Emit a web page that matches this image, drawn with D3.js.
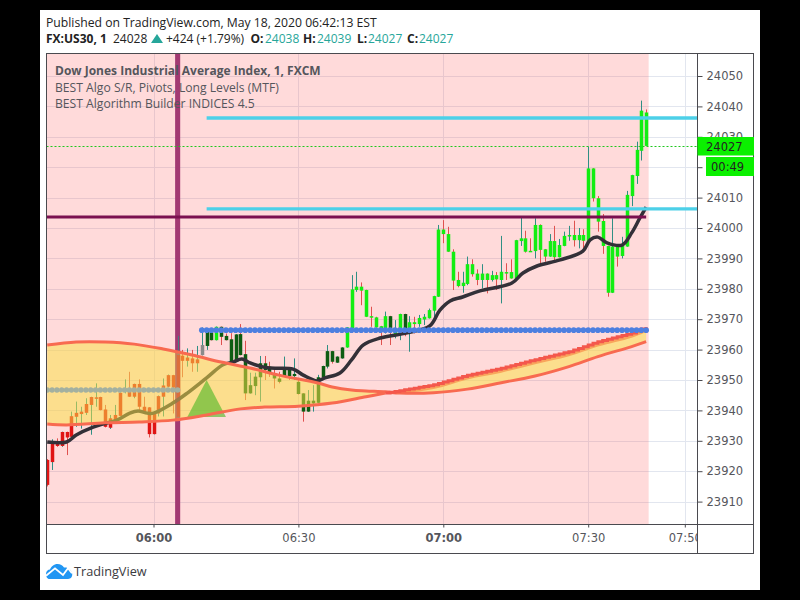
<!DOCTYPE html>
<html><head><meta charset="utf-8">
<script src="https://cdn.jsdelivr.net/npm/d3@7/dist/d3.min.js"></script>
<style>html,body{margin:0;padding:0;background:#000;overflow:hidden}svg{display:block}</style>
</head><body><div id="chart"></div>
<script>
// minutes after 06:00 of the first bar; one bar per minute
const firstMinute = -22;
const open = [
23923.7,23923,23929.1,23928.3,23932.9,23931.3,23937.9,23938.8,23939.2,23941.8,
23944,23944.4,23940.3,23934.3,23936.8,23938.2,23946.9,23947.2,23944.5,23948.7,
23941.2,23941,23932.2,23939,23944.5,23947.8,23951.6,23937.9,23958,23956.3,
23957.1,23955.5,23958.2,23961.2,23965.7,23963.1,23967.5,23964.5,23963.4,23956,
23965.1,23958.5,23945.6,23948,23950.9,23955.5,23954.4,23952,23950.5,23951.3,
23953.3,23951.3,23949.4,23945.6,23939.6,23942.3,23942.5,23950.9,23954.4,23959.5,
23955.7,23957.1,23960.7,23967,23979.6,23980.7,23979.6,23971,23970.6,23967.7,
23966.6,23971,23965.1,23966.6,23971.7,23967,23969,23968.4,23969.9,23970.3,
23972.8,23977.4,23999.5,23998,23992.2,23982.9,23980.9,23981.6,23988.1,23985,
23982.9,23985,23982.9,23984.5,23982.9,23985.5,23985.5,23983.4,23995.7,23996.6,
23992.5,23992.4,24001,23993,23990.6,23995.7,23990.4,23994.1,23997.2,23997.7,
23996,23997.7,23995.8,24019.6,24009.8,24002.3,23994.1,23978.7,23993.9,23990.8,
23993.9,24010.5,24017.1,24025.4,24038];
const high = [
23924,23930.5,23930.8,23933,23933,23939.6,23942.9,23941.2,23944,23944.5,
23948.9,23944.5,23941.8,23938.5,23941.8,23945.9,23950.2,23952.7,23948.8,23950.2,
23944.5,23941.1,23939.1,23944.9,23950.5,23951.8,23951.7,23964.5,23959.9,23960.4,
23959.9,23961.2,23967.3,23966,23965.8,23967.6,23967.6,23965.3,23965.4,23965.1,
23968.4,23962.9,23952.4,23952.4,23957.9,23957.9,23956,23953.8,23952.7,23957.7,
23954.2,23957.1,23950,23945.7,23946.7,23948.3,23951.7,23954.7,23961.5,23959.6,
23957.8,23960.8,23967.4,23984.5,23985.6,23982.1,23979.7,23974.1,23970.8,23967.8,
23972.5,23971.1,23969.7,23971.8,23971.8,23971,23970.8,23971.4,23971.7,23973.5,
23977.7,24001,24002.6,24000.4,23993,23985.6,23985.6,23990.6,23989.7,23986.4,
23988.1,23985.1,23985.9,23985.5,23997.4,23988.4,23989.7,23996.1,24003.5,23999.1,
23996.6,24003.2,24001.2,23993.1,23998,24000.7,23996.4,23998.8,24000.7,24002.4,
24000,23999.6,24026.8,24019.7,24010.5,24004.6,23994.2,24003.2,23994,23997.1,
24012.2,24017.5,24028.4,24041.9,24039];
const low = [
23915,23920.4,23928,23928,23925.3,23931,23934.6,23934,23938.5,23932,
23941.2,23940,23934.4,23933.9,23935.7,23938.1,23945.6,23944.4,23944,23939.6,
23939,23931.1,23932.1,23938,23938,23947.6,23939,23937.4,23950.9,23954.4,
23952.7,23952.7,23958.1,23959.9,23963,23963,23961.5,23963,23955.9,23955.9,
23958.1,23943.4,23945.5,23945,23942.9,23950,23951,23947.2,23948.9,23951.2,
23950,23950,23945.2,23936.3,23939.5,23939.6,23942.4,23950,23953.8,23955.4,
23955.6,23957,23960.6,23966.9,23979,23974.6,23970.7,23967.5,23967.2,23961.5,
23965.3,23961.5,23963.7,23963.1,23964.4,23959.3,23965.3,23967.5,23968.1,23970.2,
23969.7,23977.3,23995,23992.1,23979.6,23980.5,23978.7,23981.2,23984,23981.2,
23980.1,23978.5,23982.4,23979.6,23975.2,23982.9,23983.3,23983.3,23994.1,23991.9,
23992.3,23990,23988.4,23988.9,23990.5,23988.9,23990.3,23994,23995.8,23993.9,
23993.3,23992.5,23995.7,24008.7,23998.8,23991.5,23977.4,23978.6,23987.3,23990,
23993.8,24007.2,24014.5,24022.2,24027];
const close = [
23915.5,23929.1,23928.3,23932.9,23931.1,23938.1,23939.2,23939.6,23942.1,23944.4,
23944.3,23940.1,23934.6,23937.4,23938.5,23945.8,23947.2,23944.5,23948.7,23941.2,
23939.6,23932.2,23939,23944.7,23948.2,23951.6,23947.5,23958.2,23956.3,23957.4,
23955.5,23956.8,23961.5,23965.9,23963.1,23967.5,23964.2,23963.1,23956,23965,
23958.2,23945.6,23948.3,23951.1,23955.5,23953.3,23952.2,23950.5,23949.4,23953.8,
23951.3,23952,23945.4,23939.6,23943.2,23943.2,23950.9,23954.6,23959.5,23956,
23957.7,23960.7,23967.3,23979.8,23980.7,23979.4,23970.8,23970.5,23967.3,23966.6,
23971,23967,23967,23971.7,23966.6,23969,23968.4,23970.4,23970.8,23973,
23977.6,23999.5,23998,23992.2,23982.7,23980.9,23982,23988.1,23984.8,23982.9,
23985,23982.9,23984.5,23983.1,23985.6,23985.3,23983.4,23996,23996.6,23992.2,
23992.3,24001,23992.8,23990.6,23995.7,23990.4,23994.4,23997.4,23997.7,23996,
23997.7,23995.8,24019.6,24009.8,24002.1,23994.1,23978.7,23993.9,23990.6,23994.1,
24010.9,24017.4,24025.7,24038.6,24027];
// algo state per bar: r = sell, g = neutral, d = weak buy, l = strong buy
const barState = ("rrrrrrrrrrrrrrrrrrrrrrrrrrrrrrrr"+"g"+"dd"+"l"+"dddddddddddddddddddddddddd"+"lllllllll"+"d"+"ll"+"d"+"llllllllllllllllllllllllllllllllllllllllllllllllll").split("");

const cloudAMinutes = [-22,-16,-10,-4,2,8,14,20,26,34,37,41,44,48,51,58,65,72,79,86,92,99,102];
const cloudAValues = [23961.5,23962.5,23962.5,23961.8,23960.2,23958.2,23955.9,23953.95,23951.6,23949,23947.7,23946.7,23946.4,23946.1,23945.7,23945.8,23947,23949.1,23951.3,23954.4,23957.7,23961,23962.6];
const cloudBMinutes = [-22,-18,-10,-3,4,11,18,23,30,37,44,48,51,58,65,72,79,86,92,99,102];
const cloudBValues = [23935.5,23935.2,23935.9,23936.2,23936.8,23938.5,23940.5,23941.1,23941.4,23942.4,23944.5,23945.7,23946.5,23948.4,23951.6,23953.9,23956.7,23959.3,23962.6,23965.5,23967.4];
const cloudBInner = [23945.7,23945.6,23947,23950.2,23952.4,23955.2,23957.8,23961,23963.9,23965.8];
const cloudBInnerMinutes = [48,51,58,65,72,79,86,92,99,102];

const maMinutes = [-22,-18,-16,-12.5,-10.5,-7.6,-4.9,-3.2,-1.3,0,4,7,11,14.4,16.5,18.3,20,23.5,28.9,31,33.9,35.5,38.6,41,43.4,46.9,52.5,57.2,59.3,61.4,64,67.6,74.2,76.5,79.4,84.2,88.9,90.4,92,93.9,97,99,100.7,102];
const maValues = [23929.6,23929.6,23931.9,23934.5,23935.5,23936.8,23939.1,23939.8,23939.1,23939.1,23942.4,23945.7,23950.7,23955,23955.9,23956.9,23955.6,23954,23953.6,23951.6,23949.7,23950.7,23952.3,23956.6,23961.5,23963.8,23965.5,23967.8,23973,23976,23977.3,23979.3,23981.9,23985.2,23987.5,23989.5,23992.4,23996.1,23997,23995.1,23994.4,23998.4,24003.3,24006.9];

const lastPrice = 24027;
const resistanceHigh = 24036.2, resistanceLow = 24006.3, pivotLevel = 24003.6;
const blueLevel = 23966.4, greyLevel = 23946.7;
const signalMinute = 5;
const triangleMinutes = [7,11,15];
const triangleValues = [23937.8,23950,23937.8];
const priceTicks = [24050,24040,24030,24020,24010,24000,23990,23980,23970,23960,23950,23940,23930,23920,23910];
const hiddenPriceLabels = [24020];
const timeTicks = [0,30,60,90,110];
const timeLabels = ["06:00","06:30","07:00","07:30","07:50"];
const boldTimes = ["06:00","07:00"];
const titleLine = "Published on TradingView.com, May 18, 2020 06:42:13 EST";
const legendLines = ["Dow Jones Industrial Average Index, 1, FXCM","BEST Algo S/R, Pivots, Long Levels (MTF)","BEST Algorithm Builder INDICES 4.5"];

const W=800,H=600;
const plot={l:46.5,r:697.5,t:53.5,b:524.5,bottom:553.5,right:753.5};
const minutes=d3.range(open.length).map(i=>firstMinute+i);
const x=d3.scaleLinear().domain([0,30]).range([153.5,298.4]);
const y=d3.scaleLinear().domain([24050,23910]).range([76,501.6]);
const lastM=minutes[minutes.length-1];

const svg=d3.select("#chart").append("svg").attr("width",W).attr("height",H);
svg.append("rect").attr("x",40).attr("y",10).attr("width",720).attr("height",580).attr("fill","#fff");
const defs=svg.append("defs");
defs.append("clipPath").attr("id","pc").append("rect").attr("x",plot.l).attr("y",plot.t).attr("width",plot.r-plot.l).attr("height",plot.b-plot.t);
defs.append("clipPath").attr("id","xc").append("rect").attr("x",plot.l).attr("y",plot.b).attr("width",plot.r-plot.l).attr("height",plot.bottom-plot.b);

const g=svg.append("g").attr("clip-path","url(#pc)");
// grid
g.selectAll("line.gy").data(priceTicks).join("line").attr("x1",plot.l).attr("x2",plot.r).attr("y1",d=>Math.round(y(d))+.5).attr("y2",d=>Math.round(y(d))+.5).attr("stroke","#e2e6ef");
g.selectAll("line.gx").data(timeTicks).join("line").attr("x1",d=>Math.round(x(d))+.5).attr("x2",d=>Math.round(x(d))+.5).attr("y1",plot.t).attr("y2",plot.b).attr("stroke","#e2e6ef");
// session background
g.append("rect").attr("x",plot.l).attr("y",plot.t).attr("width",x(lastM)+2.5-plot.l).attr("height",plot.b-plot.t).attr("fill","rgba(255,82,82,.21)");
// vertical signal
const signalBar=()=>g.append("rect").attr("x",x(signalMinute)-2.5).attr("y",plot.t).attr("width",5).attr("height",plot.b-plot.t);
signalBar().attr("fill","#a33b74");
// bars
const barColor={r:"#e01414",g:"#8a8a8a",d:"#0d5c12",l:"#12ee12"};
const bars=g.append("g");
minutes.forEach((m,i)=>{
  const up=close[i]>=open[i];
  bars.append("line").attr("x1",Math.round(x(m))+.5).attr("x2",Math.round(x(m))+.5).attr("y1",y(high[i])).attr("y2",y(low[i])).attr("stroke",up?"#2f8f84":"#e0514e").attr("stroke-width",1);
  const top=Math.min(y(open[i]),y(close[i])),h=Math.max(1.5,Math.abs(y(open[i])-y(close[i])));
  bars.append("rect").attr("x",Math.round(x(m))-1.25).attr("y",top).attr("width",3.5).attr("height",h).attr("fill",barColor[barState[i]]);
});
// moving average
const curve=d3.curveCatmullRom.alpha(.5);
const ptsA=cloudAMinutes.map((m,i)=>[x(m),y(cloudAValues[i])]);
const ptsB=cloudBMinutes.map((m,i)=>[x(m),y(cloudBValues[i])]);
const ptsI=cloudBInnerMinutes.map((m,i)=>[x(m),y(cloudBInner[i])]);
const line=d3.line().curve(curve);
g.append("path").attr("d",line(maMinutes.map((m,i)=>[x(m),y(maValues[i])]))).attr("fill","none").attr("stroke","#333038").attr("stroke-width",3.5).attr("stroke-linejoin","round");
// cloud overlay
const ringPath=line(ptsA)+"L"+line(ptsB.slice().reverse()).slice(1)+"Z";
g.append("path").attr("d",ringPath).attr("fill","rgba(250,226,70,.52)");
signalBar().attr("fill","rgba(160,50,110,.22)");
g.append("path").attr("d",d3.line()(d3.zip(triangleMinutes,triangleValues).map(d=>[x(d[0]),y(d[1])]))+"Z").attr("fill","rgba(85,185,40,.64)");
// orange inner band + cloud edges
g.append("path").attr("d",line(ptsB.filter(p=>p[0]>=x(48)))+"L"+line(ptsI.slice().reverse()).slice(1)+"Z").attr("fill","#f9a55c");
g.append("path").attr("d",line(ptsA)).attr("fill","none").attr("stroke","#f86a50").attr("stroke-width",3);
function interpAt(m){const j=d3.bisectRight(cloudBMinutes,m)-1;const k=Math.min(j+1,cloudBMinutes.length-1);const f=k===j?0:(m-cloudBMinutes[j])/(cloudBMinutes[k]-cloudBMinutes[j]);return cloudBValues[j]+(cloudBValues[k]-cloudBValues[j])*f;}
g.append("path").attr("d",line(ptsB.filter(p=>p[0]<=x(48)))).attr("fill","none").attr("stroke","#f86a50").attr("stroke-width",3);
g.append("path").attr("d",d3.line().curve(d3.curveStepAfter)(minutes.filter(m=>m>=48).map(m=>[x(m),y(interpAt(m))]))).attr("fill","none").attr("stroke","#f4574c").attr("stroke-width",3);
// dotted levels
g.selectAll("circle.grey").data(minutes.filter(m=>m<=signalMinute)).join("circle").attr("cx",d=>x(d)).attr("cy",y(greyLevel)).attr("r",2.7).attr("fill","#a3b0a0");
g.selectAll("circle.blue").data(minutes.filter(m=>m>=10)).join("circle").attr("cx",d=>x(d)).attr("cy",y(blueLevel)).attr("r",2.8).attr("fill","#4d7fe0");
// levels
g.append("line").attr("x1",plot.l).attr("x2",x(lastM)).attr("y1",y(pivotLevel)).attr("y2",y(pivotLevel)).attr("stroke","#7b1150").attr("stroke-width",3);
[resistanceHigh,resistanceLow].forEach(v=>g.append("line").attr("x1",x(11)).attr("x2",plot.r).attr("y1",y(v)).attr("y2",y(v)).attr("stroke","#4dd0e8").attr("stroke-width",3.4));
g.append("line").attr("x1",plot.l).attr("x2",plot.r).attr("y1",Math.round(y(lastPrice))+.5).attr("y2",Math.round(y(lastPrice))+.5).attr("stroke","#1ec81e").attr("stroke-dasharray","2 2");

// legend text
const uiFont="'Open Sans',sans-serif";
legendLines.forEach((t,i)=>svg.append("text").attr("x",55).attr("y",75+i*16.5).attr("font-family",uiFont).attr("font-size",i?12.15:12).attr("font-weight",i?400:700).attr("fill","#55565c").text(t));

// frame
svg.append("rect").attr("x",plot.l).attr("y",plot.t).attr("width",plot.right-plot.l).attr("height",plot.bottom-plot.t).attr("fill","none").attr("stroke","#4a4a4f");
svg.append("line").attr("x1",plot.r).attr("x2",plot.r).attr("y1",plot.t).attr("y2",plot.bottom).attr("stroke","#4a4a4f");
svg.append("line").attr("x1",plot.l).attr("x2",plot.right).attr("y1",plot.b).attr("y2",plot.b).attr("stroke","#4a4a4f");

// axes
const axisFont="'DejaVu Sans',sans-serif";
const ya=svg.append("g").attr("transform",`translate(${plot.r},0)`).call(d3.axisRight(y).tickValues(priceTicks).tickSize(5).tickPadding(4).tickFormat(d=>hiddenPriceLabels.includes(d)?"":d3.format("d")(d)));
ya.select(".domain").remove();
ya.selectAll("line").attr("stroke","#4a4a4f");
ya.selectAll("text").attr("font-family",axisFont).attr("font-size",11.5).attr("fill","#55565c");
const xa=svg.append("g").attr("clip-path","url(#xc)").append("g").attr("transform",`translate(0,${plot.b})`).call(d3.axisBottom(x).tickValues(timeTicks).tickSize(3).tickPadding(6).tickFormat((d,i)=>timeLabels[i]));
xa.select(".domain").remove();
xa.selectAll("line").attr("stroke","#4a4a4f");
xa.selectAll("text").attr("font-family",axisFont).attr("font-size",11.5).attr("fill","#55565c").attr("font-weight",(d,i)=>boldTimes.includes(timeLabels[i])?700:400);

// price labels
svg.append("rect").attr("x",plot.r).attr("y",137).attr("width",plot.right-plot.r+.5).attr("height",18.5).attr("fill","#0bf000");
svg.append("text").attr("x",706).attr("y",150.5).attr("font-family",axisFont).attr("font-size",11.5).attr("fill","#222").text(lastPrice);
svg.append("rect").attr("x",706).attr("y",157).attr("width",48).attr("height",19).attr("fill","#0bf000");
svg.append("text").attr("x",711).attr("y",171).attr("font-family",axisFont).attr("font-size",11.5).attr("fill","#222").text("00:49");

// header
svg.append("text").attr("x",46).attr("y",27).attr("font-family",uiFont).attr("font-size",12.2).attr("fill","#222").text(titleLine);
const teal="#26a69a";
const hdr=[["FX:US30, 1",46,700,"#222"],["24028",113,400,"#222"],["+424 (+1.79%)",166,400,"#222"],["O:",250.5,700,"#222"],["24038",265,400,teal],["H:",303,700,"#222"],["24039",317,400,teal],["L:",357,700,"#222"],["24027",368,400,teal],["C:",407,700,"#222"],["24027",419,400,teal]];
hdr.forEach(d=>svg.append("text").attr("x",d[1]).attr("y",43).attr("font-family",uiFont).attr("font-size",12).attr("font-weight",d[2]).attr("fill",d[3]).text(d[0]));
svg.append("path").attr("d","M151,43L157,34L163,43Z").attr("fill",teal);

// logo
const logo=svg.append("g").attr("transform","translate(46,564)");
logo.append("path").attr("d","M0,10 C0,7 2,5.5 4,5.5 C5,2.5 8,0 11.5,0 C14.5,0 16.5,1.5 18,3.5 C22,3 25,5.5 26,9 C27,12 25,15 22,15 L3.5,15 C1,15 0,12.5 0,10Z").attr("fill","#2196f3");
logo.append("path").attr("d","M0,11.7 L9,4.3 L17,11 L22,4.3 L26,9.3").attr("fill","none").attr("stroke","#fff").attr("stroke-width",1.8);
svg.append("text").attr("x",74).attr("y",576).attr("font-family",uiFont).attr("font-size",12.7).attr("fill","#3a3a3e").text("TradingView");
</script></body></html>
